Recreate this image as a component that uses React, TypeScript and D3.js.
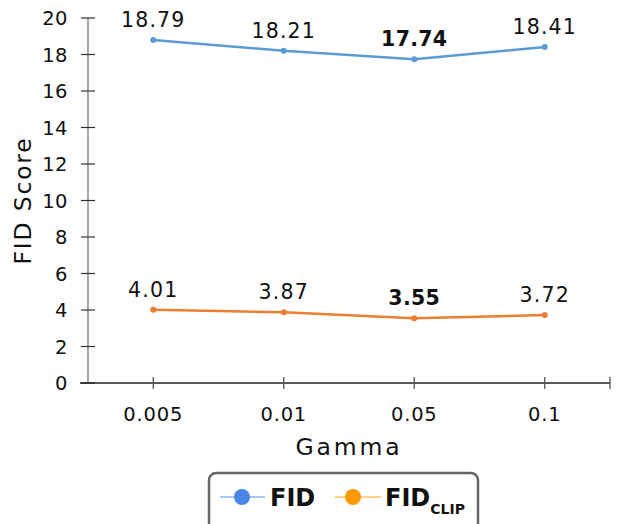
import React from "react";
import * as d3 from "d3";

const categories = ["0.005", "0.01", "0.05", "0.1"];
const fidValues = [18.79, 18.21, 17.74, 18.41];
const fidClipValues = [4.01, 3.87, 3.55, 3.72];
const yTicks = [0, 2, 4, 6, 8, 10, 12, 14, 16, 18, 20];

const W = 618;
const H = 524;
const FONT = "'DejaVu Sans', 'Open Sans', sans-serif";

export default function App() {
  const left = 88, right = 610, top = 18, bottom = 383;
  const x = d3.scaleBand<string>().domain(categories).range([left, right]);
  const y = d3.scaleLinear().domain([0, 20]).range([bottom, top]);
  const cx = (c: string) => (x(c) as number) + x.bandwidth() / 2;
  const line = d3.line<number>().x((_, i) => cx(categories[i])).y((d) => y(d));
  const minF = d3.min(fidValues) as number;
  const minC = d3.min(fidClipValues) as number;

  const series = [
    { vals: fidValues, color: "#5b9bd5", min: minF },
    { vals: fidClipValues, color: "#ed7d31", min: minC },
  ];

  return (
    <svg width={W} height={H} style={{ position: "absolute", left: 0, top: 0, background: "#fff" }} fontFamily={FONT}>
      {/* y axis */}
      <line x1={left} x2={left} y1={top} y2={bottom} stroke="#777" strokeWidth={1.3} />
      {yTicks.map((t) => (
        <g key={t}>
          <line x1={81} x2={95} y1={y(t)} y2={y(t)} stroke="#333" strokeWidth={1.2} />
          <text x={68} y={y(t)} dy="0.36em" textAnchor="end" fontSize={19.5} letterSpacing={0.5} fill="#111">{t}</text>
        </g>
      ))}
      {/* x axis */}
      <line x1={80} x2={right} y1={bottom} y2={bottom} stroke="#222" strokeWidth={1.3} />
      {categories.map((c) => (
        <g key={c}>
          <line x1={cx(c)} x2={cx(c)} y1={bottom - 6} y2={bottom + 6} stroke="#555" strokeWidth={1.3} />
          <text x={cx(c)} y={421} textAnchor="middle" fontSize={19.5} letterSpacing={0.8} fill="#111">{c}</text>
        </g>
      ))}
      <line x1={right} x2={right} y1={bottom - 6} y2={bottom + 6} stroke="#555" strokeWidth={1.3} />
      <text x={349} y={455} textAnchor="middle" fontSize={23.5} letterSpacing={2.8} fill="#111">Gamma</text>
      <text transform={`translate(31,${(top + bottom) / 2}) rotate(-90)`} textAnchor="middle" fontSize={23.5} letterSpacing={1.8} fill="#111">FID Score</text>

      {series.map((s, si) => (
        <g key={si}>
          <path d={line(s.vals) as string} fill="none" stroke={s.color} strokeWidth={2.5} />
          {s.vals.map((v, i) => (
            <g key={i}>
              <circle cx={cx(categories[i])} cy={y(v)} r={3} fill={s.color} />
              <text x={cx(categories[i])} y={y(v) - 13} textAnchor="middle" fontSize={20.5}
                letterSpacing={v === s.min ? 0.3 : 1.2}
                fontWeight={v === s.min ? 700 : 400} fill="#111">{v.toFixed(2)}</text>
            </g>
          ))}
        </g>
      ))}

      {/* legend */}
      <rect x={209} y={473} width={269} height={60} rx={7} fill="#fff" stroke="#666" strokeWidth={2.5} />
      <line x1={220} x2={265} y1={497} y2={497} stroke="#8fb3ee" strokeWidth={1.5} />
      <circle cx={242} cy={497} r={8} fill="#4a86e8" />
      <text x={270} y={506} fontSize={24} fontWeight={700} fill="#111">FID</text>
      <line x1={335} x2={381} y1={497} y2={497} stroke="#ffc266" strokeWidth={1.5} />
      <circle cx={353} cy={497} r={8} fill="#ff9900" />
      <text x={385} y={506} fontSize={24} fontWeight={700} fill="#111">
        FID<tspan fontSize={14} dy={8}>CLIP</tspan>
      </text>
    </svg>
  );
}
